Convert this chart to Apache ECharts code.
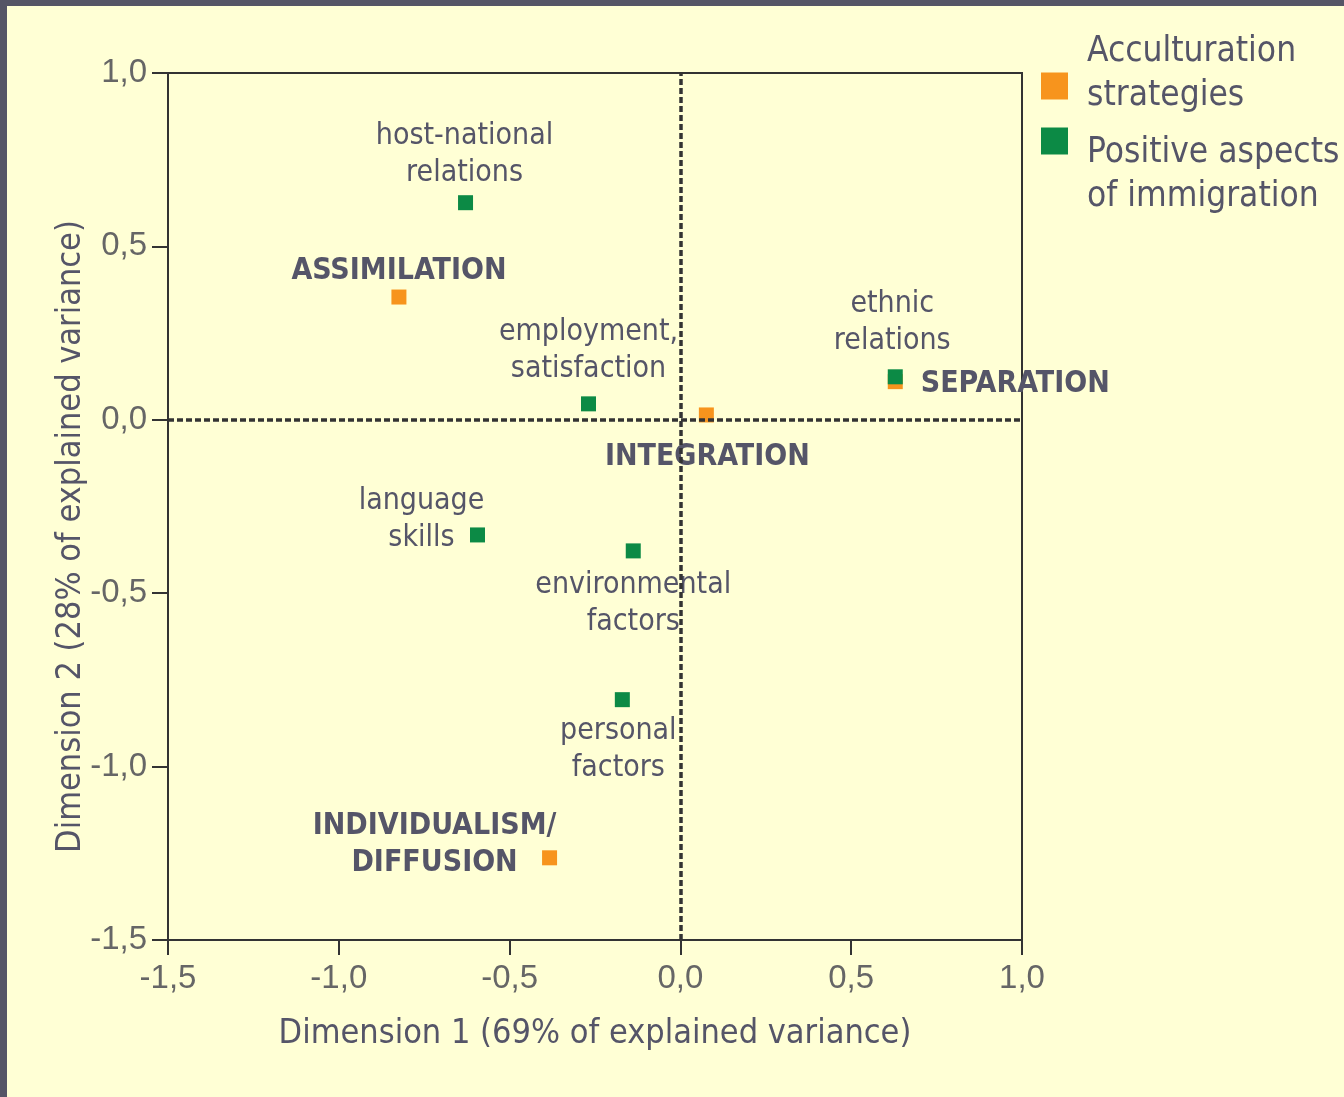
<!DOCTYPE html>
<html>
<head>
<meta charset="utf-8">
<script src="https://cdn.jsdelivr.net/npm/echarts@6/dist/echarts.min.js"></script>
<style>
html,body{margin:0;padding:0;background:#FFFFD5;}
#chart{width:1344px;height:1097px;}
</style>
</head>
<body>
<div id="chart"></div>
<script>
// ---- data ----
const strategyNames = ['ASSIMILATION', 'INTEGRATION', 'SEPARATION', 'INDIVIDUALISM/\nDIFFUSION'];
const strategyX = [-0.824, 0.076, 0.629, -0.383];
const strategyY = [0.354, 0.014, 0.110, -1.263];

const aspectNames = ['host-national\nrelations', 'employment,\nsatisfaction', 'ethnic\nrelations',
                     'language\nskills', 'environmental\nfactors', 'personal\nfactors'];
const aspectX = [-0.629, -0.269, 0.629, -0.594, -0.138, -0.170];
const aspectY = [0.626, 0.046, 0.124, -0.332, -0.378, -0.807];

const seriesNames = ['Acculturation\nstrategies', 'Positive aspects\nof immigration'];
const xAxisTitle = 'Dimension 1 (69% of explained variance)';
const yAxisTitle = 'Dimension 2 (28% of explained variance)';

// ---- style (label offsets in px, relative to point) ----
const strategyOffsets = [[0, -26], [1, 42], [120, 3], [-115, -13]];
const aspectOffsets = [[-1, -48], [0, -53], [-3, -54], [-56, -15], [0, 53], [-4, 50]];

const FONT = "'DejaVu Sans Condensed', 'Liberation Sans Narrow', sans-serif";
const TXT = '#555568';

function build(names, xs, ys, offs, bold) {
  return names.map((n, i) => ({
    name: n,
    value: [xs[i], ys[i]],
    label: {
      show: true, position: 'inside', offset: offs[i], formatter: n,
      color: TXT, fontFamily: FONT, fontSize: 30, lineHeight: 37,
      fontWeight: bold ? 'bold' : 'normal', align: 'center'
    }
  }));
}

const fmt = v => v.toFixed(1).replace('.', ',');

function legendFmt(extraTop, extraBottom) {
  return name => {
    const lines = name.split('\n').map(l => '{t|' + l + '}');
    if (extraTop) lines.unshift('{g1| }');
    if (extraBottom) lines.push('{g2| }');
    return lines.join('\n');
  };
}
const legendRich = {
  t: {color: TXT, fontFamily: FONT, fontSize: 35, lineHeight: 44, padding: [0, 0, 0, 14]},
  g1: {fontSize: 10, lineHeight: 68},
  g2: {fontSize: 10, lineHeight: 25}
};

const chart = echarts.init(document.getElementById('chart'), null, {renderer: 'canvas'});
chart.setOption({
  animation: false,
  backgroundColor: '#FFFFD5',
  graphic: [
    {type: 'rect', left: 0, top: 0, shape: {width: 1344, height: 6}, style: {fill: '#555566'}, z: 100},
    {type: 'rect', left: 0, top: 0, shape: {width: 7, height: 1097}, style: {fill: '#555566'}, z: 100}
  ],
  grid: {left: 168, right: 322, top: 73, bottom: 157, show: true, borderColor: '#333', borderWidth: 2, backgroundColor: 'transparent'},
  legend: [
    {
      data: [seriesNames[0]],
      orient: 'vertical', left: 1041, top: 34, padding: 0,
      icon: 'rect', itemWidth: 27, itemHeight: 27,
      formatter: legendFmt(false, true),
      textStyle: {rich: legendRich}
    },
    {
      data: [seriesNames[1]],
      orient: 'vertical', left: 1041, top: 92, padding: 0,
      icon: 'rect', itemWidth: 27, itemHeight: 27,
      formatter: legendFmt(true, false),
      textStyle: {rich: legendRich}
    }
  ],
  xAxis: {
    type: 'value', min: -1.5, max: 1.0, interval: 0.5,
    name: xAxisTitle, nameLocation: 'middle', nameGap: 77, nameMoveOverlap: false,
    nameTextStyle: {color: TXT, fontFamily: FONT, fontSize: 34},
    axisLine: {show: true, onZero: false, lineStyle: {color: '#333', width: 2}},
    axisTick: {show: true, length: 15, lineStyle: {color: '#333', width: 2}},
    axisLabel: {formatter: fmt, color: '#666', fontFamily: "'Liberation Sans', Arial, sans-serif", fontSize: 33, margin: 22},
    splitLine: {show: false}
  },
  yAxis: {
    type: 'value', min: -1.5, max: 1.0, interval: 0.5,
    name: yAxisTitle, nameLocation: 'middle', nameGap: 80, nameMoveOverlap: false,
    nameTextStyle: {color: TXT, fontFamily: FONT, fontSize: 34, padding: [0, 60, 0, 0]},
    axisLine: {show: true, onZero: false, lineStyle: {color: '#333', width: 2}},
    axisTick: {show: true, length: 16, lineStyle: {color: '#333', width: 2}},
    axisLabel: {formatter: fmt, color: '#666', fontFamily: "'Liberation Sans', Arial, sans-serif", fontSize: 33, margin: 21},
    splitLine: {show: false}
  },
  series: [
    {
      name: seriesNames[0], type: 'scatter', symbol: 'rect', symbolSize: 15,
      itemStyle: {color: '#F7941D', opacity: 1},
      data: build(strategyNames, strategyX, strategyY, strategyOffsets, true),
      markLine: {
        silent: true, symbol: 'none', animation: false,
        label: {show: false},
        lineStyle: {color: '#333', width: 3.5, type: [6, 3]},
        data: [{xAxis: 0}, {yAxis: 0}]
      },
      z: 3
    },
    {
      name: seriesNames[1], type: 'scatter', symbol: 'rect', symbolSize: 15,
      itemStyle: {color: '#0C8A45', opacity: 1},
      data: build(aspectNames, aspectX, aspectY, aspectOffsets, false),
      z: 4
    }
  ]
});
</script>
</body>
</html>
